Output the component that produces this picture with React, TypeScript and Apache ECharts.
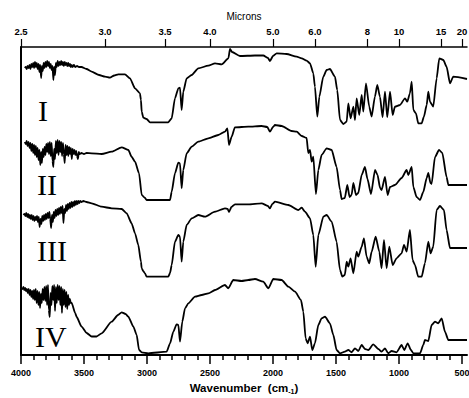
import React, { useEffect, useRef } from "react";
import * as echarts from "echarts";

// Bottom axis (wavenumber, cm-1)
const wavenumberTicks = [4000, 3500, 3000, 2500, 2000, 1500, 1000, 500];
const wavenumberMinor = [
  3900, 3800, 3700, 3600, 3400, 3300, 3200, 3100, 2900, 2800, 2700, 2600,
  2400, 2300, 2200, 2100, 1900, 1800, 1700, 1600, 1400, 1300, 1200, 1100,
  900, 800, 700, 600,
];
// Top axis (microns)
const micronValues = [2.5, 3.0, 3.5, 4.0, 5.0, 6.0, 8, 10, 15, 20];
const micronLabels = ["2.5", "3.0", "3.5", "4.0", "5.0", "6.0", "8", "10", "15", "20"];

const traceNames = ["I", "II", "III", "IV"];

// Spectrum I  [wavenumber, offset transmittance]
const traceI: number[][] = [
  [3970, 287], [3962, 288], [3955, 286], [3948, 289], [3940, 287], [3932, 290], [3925, 286],
  [3918, 291], [3910, 288], [3903, 292], [3896, 287], [3889, 293], [3882, 288], [3875, 292],
  [3868, 286], [3861, 291], [3854, 283], [3848, 290], [3840, 277], [3834, 289], [3827, 284],
  [3820, 292], [3813, 287], [3806, 293], [3799, 288], [3792, 294], [3785, 289], [3778, 293],
  [3771, 287], [3764, 291], [3757, 285], [3750, 289], [3743, 275], [3737, 288], [3730, 280],
  [3723, 292], [3716, 288], [3709, 294], [3702, 289], [3695, 293], [3688, 290], [3681, 294],
  [3674, 290], [3667, 293], [3660, 289], [3653, 293], [3646, 290], [3639, 292], [3632, 289],
  [3625, 292], [3618, 289], [3611, 291], [3604, 288], [3597, 290], [3590, 288], [3580, 290],
  [3570, 288], [3555, 289], [3540, 288], [3520, 288],
  [3480, 286], [3439, 283.3], [3380, 280], [3333, 278.3], [3294, 277.3], [3260, 279.5],
  [3228, 280.7], [3175, 280.7], [3135, 276.7], [3095, 266.7], [3056, 261.7], [3048, 255],
  [3042, 243.3], [3029, 237.3], [3003, 236], [2976, 232.7], [2831, 232.7], [2804, 236.7],
  [2778, 256.7], [2751, 266.7], [2738, 267.3], [2725, 245], [2712, 263.3], [2685, 276.7],
  [2645, 280], [2593, 286.7], [2513, 289.3], [2460, 291.7], [2407, 290.7], [2354, 296.7],
  [2341, 306], [2325, 303], [2262, 299], [2143, 299.5], [2077, 299.5], [2040, 297],
  [2024, 294], [2000, 299], [1971, 301.7], [1892, 301], [1812, 298.3], [1772, 296.7],
  [1733, 294.3], [1706, 291.7], [1680, 281.7], [1667, 268.3], [1648, 238.3], [1632, 258.3],
  [1601, 278.3], [1574, 285], [1548, 286], [1508, 278.3], [1490, 265], [1468, 235],
  [1442, 231], [1415, 233.3], [1402, 251.7], [1384, 236.7], [1362, 248.3], [1349, 235],
  [1336, 256.7], [1315, 240], [1296, 260], [1283, 243.3], [1262, 271.7], [1236, 248.3],
  [1217, 238.3], [1191, 258.3], [1172, 270], [1151, 258.3], [1130, 237.7], [1111, 263.3],
  [1093, 237.7], [1071, 263.3], [1050, 240], [1032, 248.3], [992, 250], [952, 256.7],
  [934, 253.3], [913, 261.7], [899, 273.3], [886, 245], [865, 241.7], [847, 231.7],
  [820, 231.7], [802, 238.3], [780, 250], [767, 263.3], [754, 253.3], [728, 248.3],
  [701, 276.7], [680, 296.7], [648, 295], [622, 288.3], [595, 271.7], [569, 278.3],
  [460, 276],
];

// Spectrum II
const traceII: number[][] = [
  [3970, 213], [3962, 211], [3955, 214], [3948, 209], [3940, 213], [3932, 207], [3925, 212],
  [3918, 204], [3910, 211], [3903, 202], [3896, 210], [3889, 200], [3882, 209], [3875, 198],
  [3868, 207], [3861, 195], [3854, 205], [3847, 190], [3840, 203], [3834, 192], [3827, 206],
  [3820, 198], [3813, 208], [3806, 200], [3799, 211], [3792, 203], [3785, 212], [3778, 201],
  [3771, 213], [3764, 199], [3757, 212], [3750, 194], [3743, 188], [3737, 206], [3730, 196],
  [3723, 214], [3716, 202], [3709, 215], [3702, 200], [3695, 214], [3688, 203], [3681, 213],
  [3674, 199], [3667, 212], [3660, 201], [3653, 192], [3646, 210], [3639, 200], [3632, 209],
  [3625, 199], [3618, 208], [3611, 201], [3604, 207], [3597, 196], [3590, 206], [3583, 201],
  [3576, 205], [3569, 200], [3562, 204], [3555, 199], [3548, 196], [3541, 203], [3534, 201],
  [3520, 202], [3500, 201],
  [3480, 202], [3439, 201.7], [3360, 201], [3280, 203.3], [3201, 207.7], [3148, 205],
  [3122, 198.3], [3095, 193.3], [3063, 181.7], [3042, 160], [3016, 157], [3003, 155],
  [2817, 155], [2804, 163.3], [2778, 181.7], [2751, 192.3], [2738, 191.7], [2725, 166.7],
  [2712, 185], [2685, 201.7], [2645, 208.3], [2593, 213.3], [2513, 216.7], [2434, 220],
  [2381, 223.3], [2362, 226.7], [2349, 210], [2328, 218.3], [2302, 227.7], [2196, 228.3],
  [2090, 229], [2045, 228], [2024, 223.3], [2000, 228], [1984, 230], [1931, 229],
  [1852, 224], [1812, 223.3], [1772, 219], [1733, 217], [1720, 202], [1706, 205],
  [1693, 193.3], [1680, 198.3], [1659, 161], [1640, 185], [1614, 200], [1574, 206.7],
  [1534, 205], [1495, 188], [1468, 165], [1455, 156], [1430, 157], [1410, 170], [1392, 158],
  [1376, 160], [1362, 172], [1341, 160], [1323, 162], [1296, 180], [1270, 188], [1250, 176],
  [1222, 161], [1190, 185], [1170, 180], [1150, 167], [1138, 165], [1111, 178], [1090, 160],
  [1071, 168], [1032, 170], [979, 177], [939, 185], [926, 180], [899, 188], [886, 168],
  [860, 158], [833, 155], [807, 163], [780, 177], [767, 182], [750, 172], [741, 171],
  [714, 198], [682, 205], [656, 202], [622, 178], [608, 170], [460, 170],
];

// Spectrum III
const traceIII: number[][] = [
  [3981, 140], [3972, 141], [3965, 139], [3958, 142], [3950, 138], [3943, 141], [3936, 137],
  [3929, 140], [3922, 136], [3915, 140], [3908, 135], [3901, 139], [3894, 134], [3887, 138],
  [3880, 135], [3873, 139], [3866, 133], [3859, 138], [3852, 128], [3845, 136], [3838, 131],
  [3831, 139], [3824, 134], [3817, 140], [3810, 135], [3803, 141], [3796, 136], [3789, 142],
  [3782, 137], [3775, 143], [3768, 136], [3761, 127], [3754, 140], [3747, 133], [3740, 143],
  [3733, 137], [3726, 145], [3719, 139], [3712, 146], [3705, 140], [3698, 147], [3691, 141],
  [3684, 148], [3677, 142], [3670, 149], [3663, 132], [3656, 146], [3649, 142], [3642, 150],
  [3635, 144], [3628, 151], [3621, 146], [3614, 152], [3607, 147], [3600, 153], [3593, 148],
  [3586, 153], [3579, 149], [3572, 154], [3565, 150], [3558, 154], [3551, 151], [3544, 154],
  [3537, 152], [3530, 154], [3520, 153], [3505, 154],
  [3480, 153], [3439, 151.7], [3360, 148.3], [3280, 146.7], [3201, 146], [3161, 141.7],
  [3122, 131.7], [3095, 121.7], [3069, 110], [3048, 93.3], [3042, 86.7], [3030, 84],
  [3016, 81.7], [3003, 78.3], [2831, 78.3], [2817, 82], [2804, 90], [2778, 113.3],
  [2751, 120], [2738, 118.3], [2725, 93.3], [2712, 113.3], [2685, 130], [2645, 136.7],
  [2593, 140], [2540, 138.3], [2460, 143.3], [2381, 146.7], [2360, 146], [2349, 143],
  [2330, 148], [2302, 150.7], [2196, 150.7], [2090, 151.7], [2040, 149], [2024, 146.7],
  [2005, 151], [1984, 153.3], [1878, 150], [1799, 145], [1772, 147.3], [1746, 143.3],
  [1706, 136.7], [1680, 120], [1661, 88.3], [1640, 120], [1600, 138.3], [1574, 140],
  [1534, 133.3], [1495, 113.3], [1468, 85], [1450, 78.5], [1430, 80], [1415, 93.3],
  [1402, 88.3], [1384, 96.7], [1362, 81.7], [1336, 103.3], [1323, 98.3], [1296, 108.3],
  [1278, 116.7], [1257, 98.3], [1236, 91.7], [1217, 103.3], [1185, 118.3], [1156, 103.3],
  [1138, 86.7], [1119, 115], [1098, 86.7], [1077, 108.3], [1050, 90], [1019, 96.7],
  [979, 101.7], [960, 110], [939, 103.3], [913, 125], [892, 95], [873, 90], [847, 78.3],
  [820, 78.3], [794, 91.7], [767, 113.3], [749, 101.7], [728, 108.3], [701, 145],
  [675, 149], [643, 145], [622, 125], [595, 107], [460, 107],
];

// Spectrum IV
const traceIV: number[][] = [
  [3995, 67], [3988, 66], [3981, 68], [3974, 65], [3967, 67], [3960, 64], [3953, 66],
  [3946, 62], [3939, 66], [3932, 60], [3925, 65], [3918, 58], [3911, 64], [3904, 56],
  [3897, 65], [3890, 55], [3883, 66], [3876, 52], [3869, 64], [3862, 50], [3855, 63],
  [3849, 47], [3842, 61], [3835, 52], [3828, 66], [3821, 55], [3814, 68], [3807, 54],
  [3800, 69], [3793, 50], [3786, 70], [3779, 45], [3772, 38], [3765, 62], [3758, 50],
  [3751, 69], [3744, 55], [3737, 70], [3730, 44], [3723, 68], [3716, 52], [3709, 70],
  [3702, 55], [3695, 69], [3688, 50], [3681, 68], [3675, 42], [3668, 66], [3661, 50],
  [3654, 65], [3647, 48], [3640, 63], [3633, 46], [3626, 60], [3619, 50], [3612, 56],
  [3605, 52], [3598, 52],
  [3570, 42], [3558, 38], [3519, 28.3], [3479, 22], [3439, 18.5], [3400, 18.5], [3360, 21.7],
  [3280, 33.3], [3230, 40], [3201, 42.7], [3170, 41], [3148, 38.3], [3108, 28.3], [3082, 20],
  [3063, 5], [3042, 2.7], [2989, 1.7], [2844, 3.3], [2817, 11.7], [2791, 23.3], [2765, 30.7],
  [2751, 30], [2738, 13.3], [2720, 33.3], [2698, 46.7], [2672, 51.7], [2619, 58.3],
  [2566, 60], [2513, 61.7], [2460, 65], [2381, 70], [2355, 66.7], [2315, 75], [2249, 74],
  [2196, 75], [2143, 76], [2077, 73.3], [2037, 66.7], [1997, 76], [1931, 75], [1878, 68.3],
  [1825, 63.3], [1778, 55], [1759, 43.3], [1741, 16.7], [1725, 11.7], [1706, 18.3],
  [1688, 5], [1667, 11.7], [1640, 30], [1614, 36.7], [1587, 38.3], [1548, 31.7],
  [1521, 20], [1495, 5], [1468, 1.7], [1429, 3.3], [1402, 5], [1376, 2.7], [1349, 6.7],
  [1323, 4], [1296, 10], [1270, 6], [1243, 5], [1204, 10.7], [1164, 6], [1138, 3.3],
  [1111, 6.7], [1085, 1.7], [1058, 4], [1019, 2.7], [979, 10], [958, 5], [931, 11.7],
  [905, 5], [886, 1.7], [833, 1.7], [807, 10], [794, 15], [767, 14], [741, 30],
  [714, 33.3], [688, 31.7], [661, 36.7], [635, 23.3], [608, 15], [460, 15],
];

const traces = [traceI, traceII, traceIII, traceIV];

const sans = '"Liberation Sans", Arial, sans-serif';
const serif = '"Liberation Serif", "Times New Roman", serif';

export default function App() {
  const ref = useRef<HTMLDivElement>(null);

  useEffect(() => {
    if (!ref.current) return;
    const chart = echarts.init(ref.current, undefined, { renderer: "svg", width: 469, height: 398 });
    const micronPositions = micronValues.map((m) => 10000 / m);
    const labelY = [110, 184, 250, 336];
    const labelX = [38, 37, 37, 35];

    chart.setOption({
      animation: false,
      backgroundColor: "#ffffff",
      grid: {
        left: 21,
        right: 2,
        top: 47,
        bottom: 43,
        containLabel: false,
        outerBoundsMode: "none",
      },
      xAxis: [
        {
          type: "value",
          position: "bottom",
          min: 460,
          max: 4000,
          inverse: true,
          axisLine: { show: true, onZero: false, lineStyle: { color: "#000", width: 2 } },
          axisTick: { show: true, customValues: wavenumberTicks, length: 9, lineStyle: { color: "#000", width: 1.5 } },
          axisLabel: {
            show: true,
            customValues: wavenumberTicks,
            margin: 13,
            color: "#000",
            fontFamily: sans,
            fontWeight: "bold",
            fontSize: 9,
            hideOverlap: false,
            formatter: (v: number) => String(Math.round(v)),
          },
          splitLine: { show: false },
          name: "{a|Wavenumber  (cm}{b|-1}{a|)}",
          nameLocation: "middle",
          nameGap: 21,
          nameTextStyle: {
            rich: {
              a: { fontFamily: sans, fontWeight: "bold", fontSize: 11.5, color: "#000", lineHeight: 14 },
              b: { fontFamily: sans, fontWeight: "bold", fontSize: 7, color: "#000", lineHeight: 8, verticalAlign: "bottom" },
            },
          },
        },
        {
          type: "value",
          position: "bottom",
          min: 460,
          max: 4000,
          inverse: true,
          axisLine: { show: false },
          axisTick: { show: true, customValues: wavenumberMinor, length: 5, lineStyle: { color: "#000", width: 1.5 } },
          axisLabel: { show: false },
          splitLine: { show: false },
        },
        {
          type: "value",
          position: "top",
          min: 460,
          max: 4000,
          inverse: true,
          axisLine: { show: true, onZero: false, lineStyle: { color: "#000", width: 1.5 } },
          axisTick: { show: true, customValues: micronPositions, length: 8, lineStyle: { color: "#000", width: 1.2 } },
          axisLabel: {
            show: true,
            customValues: micronPositions,
            margin: 11,
            color: "#000",
            fontFamily: sans,
            fontWeight: "bold",
            fontSize: 9.5,
            hideOverlap: false,
            formatter: (v: number) => {
              const i = micronPositions.findIndex((p) => Math.abs(p - v) < 0.5);
              return i >= 0 ? micronLabels[i] : "";
            },
          },
          splitLine: { show: false },
          name: "Microns",
          nameLocation: "middle",
          nameGap: 26,
          nameTextStyle: { fontFamily: sans, fontSize: 10, color: "#000" },
        },
      ],
      yAxis: {
        type: "value",
        min: 0,
        max: 308,
        axisLine: { show: true, onZero: false, lineStyle: { color: "#000", width: 2 } },
        axisTick: { show: false },
        axisLabel: { show: false },
        splitLine: { show: false },
      },
      series: traces.map((data, i) => ({
        type: "line",
        name: traceNames[i],
        xAxisIndex: 0,
        yAxisIndex: 0,
        data,
        showSymbol: false,
        symbol: "none",
        smooth: 0.2,
        smoothMonotone: "x",
        lineStyle: { color: "#000", width: 1.8 },
        clip: false,
      })),
      graphic: traceNames.map((t, i) => ({
        type: "text",
        x: labelX[i],
        y: labelY[i],
        style: {
          text: t,
          fontFamily: serif,
          fontSize: 30,
          fill: "#000",
          align: "left",
          verticalAlign: "middle",
        },
      })),
    });
    return () => chart.dispose();
  }, []);

  return (
    <div
      ref={ref}
      style={{ position: "fixed", left: 0, top: 0, width: "469px", height: "398px", background: "#fff" }}
    />
  );
}
